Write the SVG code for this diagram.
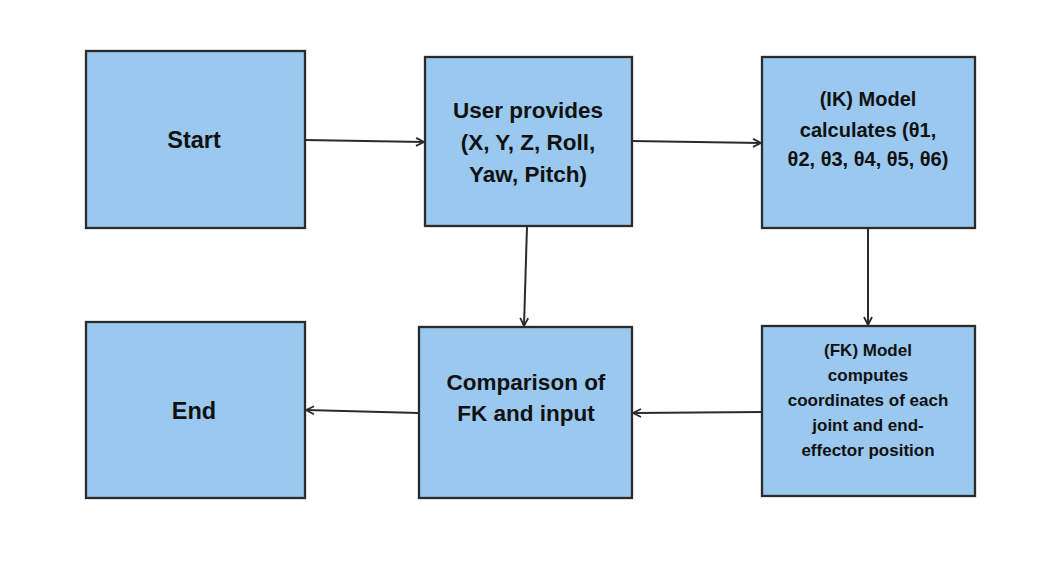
<svg xmlns="http://www.w3.org/2000/svg" width="1063" height="562" viewBox="0 0 1063 562">
<style>
.box{fill:#9AC8EE;stroke:#2b2b2b;stroke-width:2.3}
.t{font-family:"Liberation Sans",Arial,sans-serif;font-weight:bold;fill:#111;text-anchor:middle}
.g{font-family:"DejaVu Sans","Liberation Sans",sans-serif}
.c{stroke:#2b2b2b;stroke-width:2;fill:none;marker-end:url(#ah)}
</style>
<defs>
<marker id="ah" viewBox="0 0 10 10" refX="9" refY="5" markerWidth="10" markerHeight="10" markerUnits="userSpaceOnUse" orient="auto">
<path d="M1,1 L9,5 L1,9" fill="none" stroke="#2b2b2b" stroke-width="1.8"/>
</marker>
</defs>
<rect width="1063" height="562" fill="#fff"/>
<g id="connectors">
<line class="c" x1="305" y1="140" x2="424" y2="142"/>
<line class="c" x1="632" y1="141" x2="761" y2="143"/>
<line class="c" x1="527" y1="226" x2="524" y2="326"/>
<line class="c" x1="868" y1="228" x2="868" y2="325"/>
<line class="c" x1="762" y1="412" x2="633" y2="413"/>
<line class="c" x1="419" y1="413" x2="306" y2="410"/>
</g>
<g id="start">
<rect class="box" x="86" y="51" width="219" height="177"/>
<text class="t" x="194" y="148" font-size="23.5">Start</text>
</g>
<g id="user">
<rect class="box" x="425" y="57" width="207" height="169"/>
<text class="t" font-size="22.5"><tspan x="528" y="118">User provides</tspan><tspan x="528" y="150">(X, Y, Z, Roll,</tspan><tspan x="528" y="182">Yaw, Pitch)</tspan></text>
</g>
<g id="ik">
<rect class="box" x="762" y="57" width="213" height="171"/>
<text class="t" font-size="20"><tspan x="868" y="106">(IK) Model</tspan><tspan x="868" y="137">calculates (θ1,</tspan><tspan x="868" y="166">θ2, θ3, θ4, θ5, θ6)</tspan></text>
</g>
<g id="fk">
<rect class="box" x="762" y="326" width="213" height="170"/>
<text class="t" font-size="17"><tspan x="868" y="356">(FK) Model</tspan><tspan x="868" y="381">computes</tspan><tspan x="868" y="406">coordinates of each</tspan><tspan x="868" y="431">joint and end-</tspan><tspan x="868" y="456">effector position</tspan></text>
</g>
<g id="comparison">
<rect class="box" x="419" y="327" width="213" height="171"/>
<text class="t" font-size="22.5"><tspan x="526" y="390">Comparison of</tspan><tspan x="526" y="421">FK and input</tspan></text>
</g>
<g id="end">
<rect class="box" x="86" y="322" width="219" height="176"/>
<text class="t" x="194" y="419" font-size="23.5">End</text>
</g>
</svg>
